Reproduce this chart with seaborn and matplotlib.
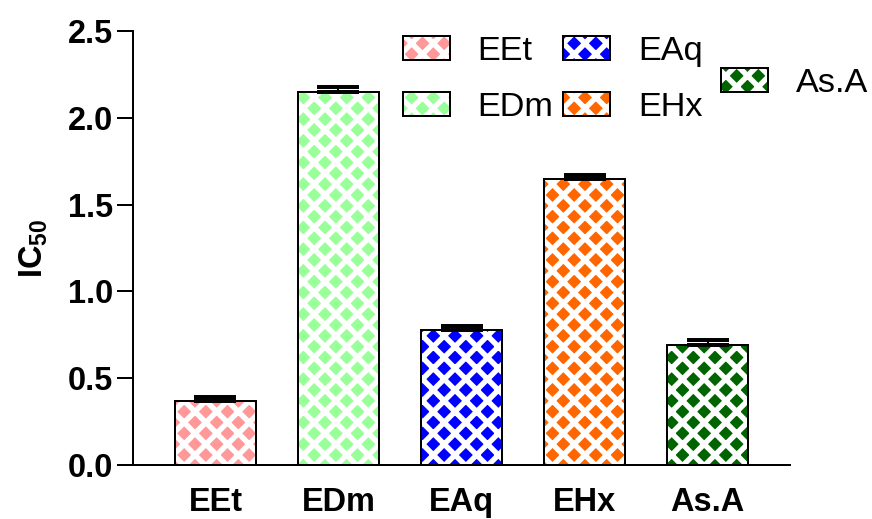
import numpy as np
import pandas as pd
import matplotlib
matplotlib.use("Agg")
import matplotlib.pyplot as plt
import matplotlib.patches as mpatches
import seaborn as sns

# IC50 values
groups = ['EEt', 'EDm', 'EAq', 'EHx', 'As.A']
ic50 = [0.37, 2.15, 0.78, 1.65, 0.69]
ic50_err = [0.02, 0.03, 0.02, 0.02, 0.03]
colors = ['#FF9999', '#99FF99', '#0000FF', '#FF6600', '#006400']

df = pd.DataFrame({'group': groups, 'ic50': ic50})

sns.set_style('ticks', {'axes.edgecolor': 'black', 'text.color': 'black',
                        'xtick.color': 'black', 'ytick.color': 'black',
                        'axes.labelcolor': 'black'})
plt.rcParams['font.family'] = ['Liberation Sans', 'DejaVu Sans']
plt.rcParams['mathtext.fontset'] = 'custom'
plt.rcParams['mathtext.bf'] = 'Liberation Sans:bold'
plt.rcParams['mathtext.rm'] = 'Liberation Sans:bold'
plt.rcParams['hatch.linewidth'] = 3.0


def white_hatch(patch):
    # white criss-cross hatch on coloured face, black outline
    patch.set_hatch('xx')
    patch.set_edgecolor('black')
    if hasattr(patch, 'set_hatchcolor'):
        patch.set_hatchcolor('white')
    else:
        patch._hatch_color = (1.0, 1.0, 1.0, 1.0)


fig, ax = plt.subplots(figsize=(872 / 130, 519 / 130), dpi=130)
fig.subplots_adjust(left=0.1525, right=0.906, bottom=0.104, top=0.940)

sns.barplot(data=df, x='group', y='ic50', hue='group', palette=colors,
            errorbar=None, width=0.66, legend=False, saturation=1,
            edgecolor='black', linewidth=1.1, ax=ax)
for p in ax.patches:
    white_hatch(p)

# upper error bars only
ax.errorbar(np.arange(len(groups)), ic50,
            yerr=[np.zeros(len(groups)), ic50_err],
            fmt='none', ecolor='black', elinewidth=1.1,
            capsize=11.5, capthick=2.2, zorder=5)

ax.set_xlim(-0.67, len(groups) - 0.33)
ax.set_ylim(0, 2.5)
ax.set_yticks(np.arange(0, 2.51, 0.5))
ax.set_yticklabels([f'{v:.1f}' for v in np.arange(0, 2.51, 0.5)])
ax.set_xlabel('')
ax.set_ylabel(r'IC$_{\mathbf{50}}$', fontsize=18, fontweight='bold', labelpad=10)

sns.despine(ax=ax)
for s in ['left', 'bottom']:
    ax.spines[s].set_linewidth(1.1)
ax.tick_params(axis='y', length=8.9, width=1.1, pad=2, labelsize=18)
ax.tick_params(axis='x', length=0, pad=12, labelsize=18)
for lab in ax.get_xticklabels() + ax.get_yticklabels():
    lab.set_fontweight('bold')

# legend: 2x2 block plus a lone entry, as in the original
handles = []
for c, g in zip(colors, groups):
    h = mpatches.Patch(facecolor=c, label=g, linewidth=1.1)
    white_hatch(h)
    handles.append(h)

leg_kw = dict(frameon=False, fontsize=19, handlelength=1.37, handleheight=0.7,
              handletextpad=0.8, borderpad=0, borderaxespad=0,
              bbox_transform=fig.transFigure, loc='center left')
leg1 = ax.legend(handles=handles[:4], ncol=2, columnspacing=0.3,
                 labelspacing=0.75, bbox_to_anchor=(0.462, 0.847), **leg_kw)
ax.add_artist(leg1)
ax.legend(handles=handles[4:], bbox_to_anchor=(0.827, 0.839), **leg_kw)

plt.savefig('out.png', dpi=130)
plt.close()
